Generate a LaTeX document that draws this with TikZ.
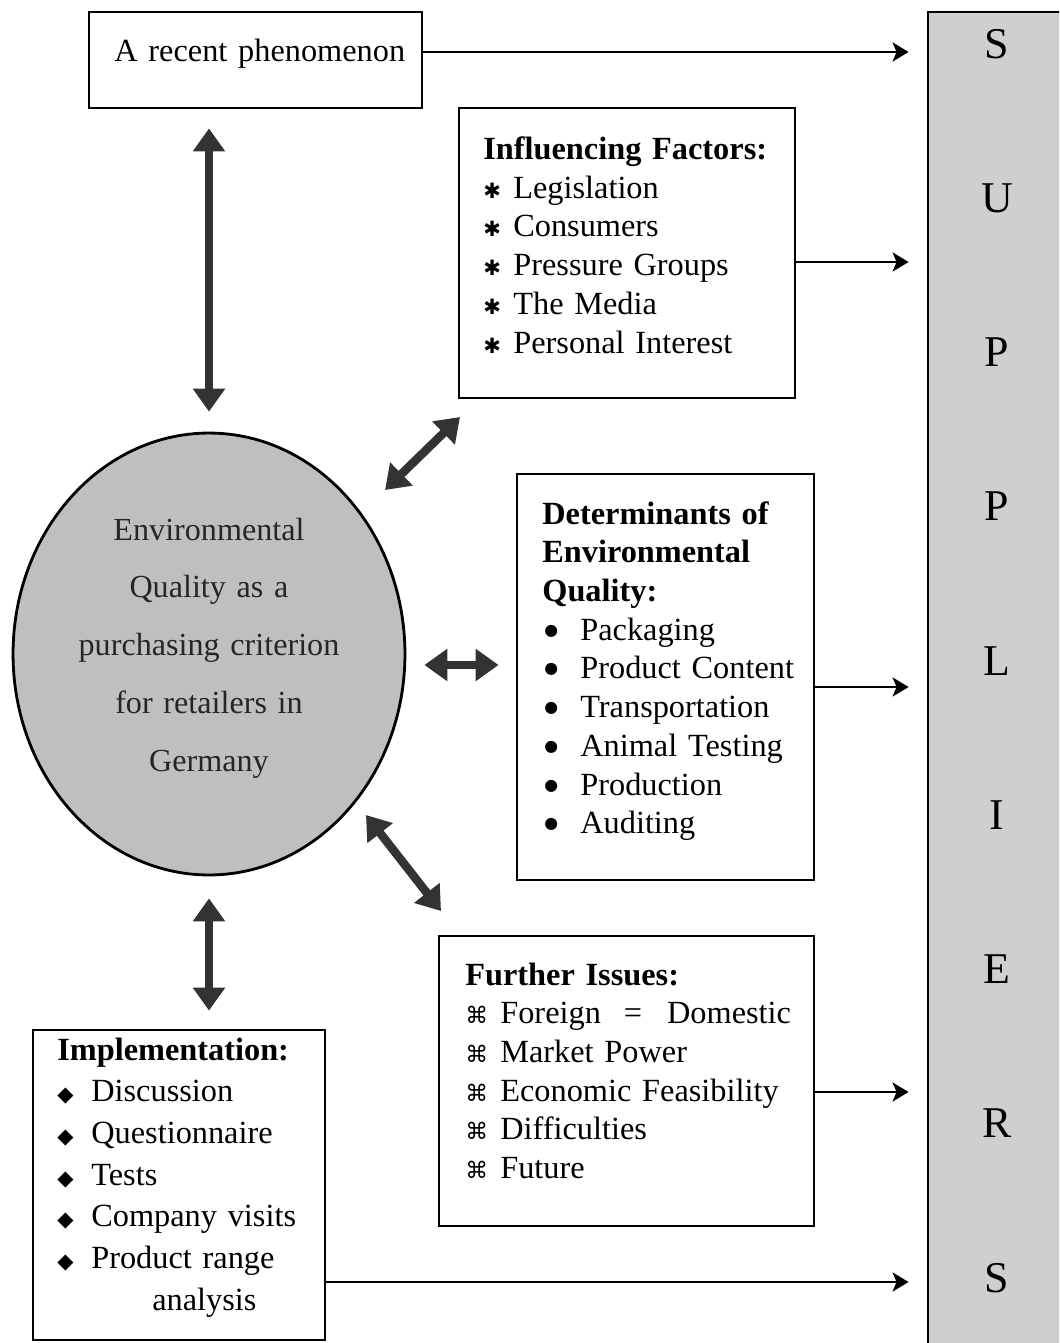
\documentclass[tikz,border=0pt]{standalone}
\usepackage{fontspec}
\setmainfont[WordSpace=0.7]{Liberation Serif}
\newfontfamily\symfont{DejaVu Sans}
\usetikzlibrary{arrows.meta, positioning, calc, fit, shapes.geometric}

\newcommand\staritem{\makebox[0.6cm][l]{{\symfont\fontsize{12pt}{12pt}\selectfont ✱}}}
\newcommand\dotitem{\makebox[0.76cm][l]{\hspace{0.04cm}\raisebox{0.1cm}{\symfont\fontsize{9pt}{9pt}\selectfont ●}}}
\newcommand\cmditem{\makebox[0.7cm][l]{{\symfont\fontsize{13pt}{13pt}\selectfont ⌘}}}
\newcommand\diaitem{\makebox[0.68cm][l]{{\symfont\fontsize{12pt}{12pt}\selectfont ◆}}}

\tikzset{
    frame/.style={draw, line width=1.6pt, inner sep=0pt},
    blurb/.style={anchor=base west, inner sep=0pt, align=left,
        font=\fontsize{18.4pt}{0.775cm}\selectfont},
    twoway/.style={{Triangle[length=0.46cm,width=0.62cm]}-{Triangle[length=0.46cm,width=0.62cm]},
        line width=0.17cm, draw=black!80},
    feed/.style={-{Stealth[length=0.32cm,width=0.38cm,inset=0.08cm]},
        line width=1.5pt, shorten >=0.36cm}
}

\begin{document}
\begin{tikzpicture}[x=0.02cm, y=-0.02cm]
        \path[use as bounding box, fill=white] (0,0) rectangle (1059,1343);
        \clip (0,0) rectangle (1059,1343);

        % suppliers column
        \node[frame, fill=gray!38, fit={(928,12) (1085,1370)}] (suppliers) {};
        \foreach \ch [count=\i from 0] in {S,U,P,P,L,I,E,R,S}
        {
            \node[anchor=base, inner sep=0pt, font=\fontsize{25pt}{25pt}\selectfont] (sup\i) at (997, 58+154.25*\i) {\ch};
        }

        % core
        \node[ellipse, draw, line width=1.6pt, fill=gray!50, inner sep=0pt,
              minimum width=7.84cm, minimum height=8.84cm] (core) at (209,654) {};
        \node[anchor=base, inner sep=0pt, text width=6.4cm, align=center, text=black!85,
              font=\fontsize{18.3pt}{1.16cm}\selectfont] (core-txt) at (209,540)
              {Environmental\\ Quality as a\\ purchasing criterion\\ for retailers in\\ Germany};

        % boxes
        \node[frame, fit={(89,12) (422,108)}] (recent) {};
        \node[blurb, text width=6.1cm] (recent-txt) at (114,61) {A recent phenomenon};

        \node[frame, fit={(459,108) (795,398)}] (infl) {};
        \node[blurb, text width=6cm] (infl-txt) at (483,159.5)
              {\textbf{Influencing Factors:}\\
               \staritem Legislation\\
               \staritem Consumers\\
               \staritem Pressure Groups\\
               \staritem The Media\\
               \staritem Personal Interest};

        \node[frame, fit={(517,474) (814,880)}] (det) {};
        \node[blurb, text width=5.3cm] (det-txt) at (542,524)
              {\textbf{Determinants of}\\
               \textbf{Environmental}\\
               \textbf{Quality:}\\
               \dotitem Packaging\\
               \dotitem Product Content\\
               \dotitem Transportation\\
               \dotitem Animal Testing\\
               \dotitem Production\\
               \dotitem Auditing};

        \node[frame, fit={(439,936) (814,1226)}] (further) {};
        \node[blurb, text width=6.9cm] (further-txt) at (465,985)
              {\textbf{Further Issues:}\\
               \cmditem Foreign\hspace{0.46cm}=\hspace{0.5cm}Domestic\\
               \cmditem Market Power\\
               \cmditem Economic Feasibility\\
               \cmditem Difficulties\\
               \cmditem Future};

        \node[frame, fit={(33,1030) (325,1340)}] (impl) {};
        \node[blurb, text width=5.2cm, font=\fontsize{18.4pt}{0.834cm}\selectfont] (impl-txt) at (57,1060)
              {\textbf{Implementation:}\\
               \diaitem Discussion\\
               \diaitem Questionnaire\\
               \diaitem Tests\\
               \diaitem Company visits\\
               \diaitem Product range\\
               \hspace*{1.9cm}analysis};

        % two-way links round the core
        \coordinate (ne-a) at (385,490);
        \coordinate (ne-b) at (460,417);
        \coordinate (se-a) at (366,815);
        \coordinate (se-b) at (441,911);
        \draw[twoway, shorten <=0.38cm, shorten >=0.4cm] (recent.south -| core.north) -- (core.north);
        \draw[twoway, shorten <=0.44cm, shorten >=0.36cm] (core.south) -- (core.south |- impl.north);
        \draw[twoway, shorten <=0.36cm, shorten >=0.34cm] ([yshift=-0.22cm]core.east) -- ([yshift=-0.22cm]core.east -| det.west);
        \draw[twoway] (ne-a) -- (ne-b);
        \draw[twoway] (se-a) -- (se-b);

        % feeds into suppliers
        \draw[feed] ([yshift=0.16cm]recent.east) -- ([yshift=0.16cm]recent.east -| suppliers.west);
        \draw[feed] ([yshift=-0.18cm]infl.east) -- ([yshift=-0.18cm]infl.east -| suppliers.west);
        \draw[feed] ([yshift=-0.2cm]det.east) -- ([yshift=-0.2cm]det.east -| suppliers.west);
        \draw[feed] ([yshift=-0.22cm]further.east) -- ([yshift=-0.22cm]further.east -| suppliers.west);
        \draw[feed] (impl.east |- 0,1282) -- (suppliers.west |- 0,1282);
\end{tikzpicture}
\end{document}
